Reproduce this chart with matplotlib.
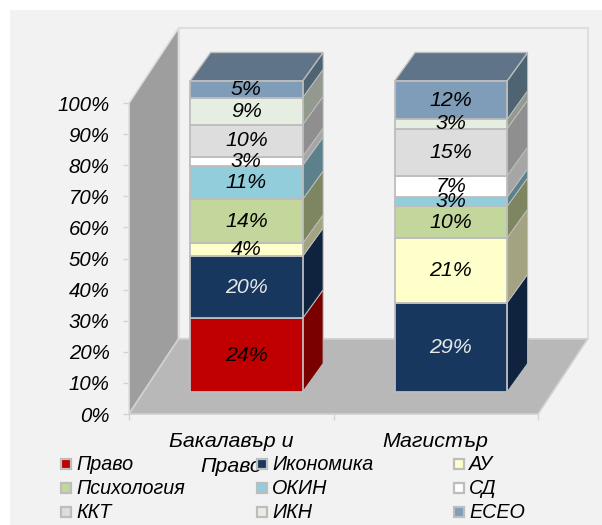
import numpy as np
import matplotlib
matplotlib.use("Agg")
import matplotlib.pyplot as plt
from matplotlib.patches import Rectangle

plt.rcParams["font.family"] = ["Liberation Sans", "DejaVu Sans"]

categories = ["Бакалавър и\nПраво", "Магистър"]
series = ["Право", "Икономика", "АУ", "Психология", "ОКИН", "СД", "ККТ", "ИКН", "ЕСЕО"]
bachelor = [23.7, 19.9, 4.2, 14.1, 10.9, 2.9, 10.2, 8.7, 5.4]
master = [0, 28.7, 20.9, 10.1, 2.9, 7.0, 15.1, 3.0, 12.3]
yticks = [0, 10, 20, 30, 40, 50, 60, 70, 80, 90, 100]

front_colors = ["#c00000", "#17375e", "#ffffcc", "#c3d69b", "#92cddc",
                "#ffffff", "#dddddd", "#e6eee2", "#7f9db9"]
side_colors = ["#7a0000", "#0f233f", "#a3a382", "#7d8660", "#5c808c",
               "#a6a6a6", "#8f8f8f", "#92998f", "#4f6473"]
label_colors = ["black", "#e8e8e8", "black", "black", "black",
                "black", "black", "black", "black"]
top_color = "#5f7489"
edge = "#bdbdbd"

W, H = 602, 525
# plot box in pixels of the image
LEFT, RIGHT, TOP, BOTTOM = 129, 538, 103, 414

fig = plt.figure(figsize=(W / 100, H / 100), dpi=100, facecolor="white")
fig.patches.append(Rectangle((10 / W, 0), 1, 1 - 10 / H, transform=fig.transFigure,
                             facecolor="#f2f2f2", edgecolor="none", zorder=-1))
ax = fig.add_axes([LEFT / W, 1 - BOTTOM / H, (RIGHT - LEFT) / W, (BOTTOM - TOP) / H])
ax.set_xlim(0, 2)
ax.set_ylim(0, 100)
ax.patch.set_visible(False)
for s in ax.spines.values():
    s.set_visible(False)

# oblique projection: depth 1 means back wall
px_x = 2 / (RIGHT - LEFT)
px_y = 100 / (BOTTOM - TOP)
dx, dy = 49.5 * px_x, 75 * px_y


def poly(xs, ys, depth=0, **kw):
    xs = np.array(xs) + depth * dx
    ys = np.array(ys) + depth * dy
    ax.fill(xs, ys, clip_on=False, **kw)


# walls and floor
poly([0, 2, 2, 0], [0, 0, 100, 100], depth=1, facecolor="#f2f2f2", edgecolor="#dedede", lw=1.5, zorder=1)
ax.fill([0, dx, dx, 0], [0, dy, 100 + dy, 100], facecolor="#9e9e9e", edgecolor="#dedede", lw=1.2,
        clip_on=False, zorder=2)
ax.fill([0, 2, 2 + dx, dx], [0, 0, dy, dy], facecolor="#b8b8b8", edgecolor="#d0d0d0", lw=1.2,
        clip_on=False, zorder=2)

# bars
bar_w = 0.55
z0 = 22 / 75
bar_depth_x = 20.5 / 49.5
bar_depth_y = 28.5 / 75
for i, values in enumerate([bachelor, master]):
    xc = i + 0.5 + z0 * dx + 0.003
    base = z0 * dy
    bottom = 0
    for j, v in enumerate(values):
        if v == 0:
            continue
        ax.bar(xc, v, bar_w, bottom=base + bottom, color=front_colors[j], edgecolor=edge, lw=1.3,
               clip_on=False, zorder=4)
        xr = xc + bar_w / 2
        ax.fill([xr, xr + bar_depth_x * dx, xr + bar_depth_x * dx, xr],
                [base + bottom, base + bottom + bar_depth_y * dy, base + bottom + v + bar_depth_y * dy, base + bottom + v],
                facecolor=side_colors[j], edgecolor=edge, lw=0.7, clip_on=False, zorder=3)
        ax.text(xc, base + bottom + v / 2, f"{round(v)}%", ha="center", va="center", style="italic",
                fontsize=15.4, color=label_colors[j], clip_on=False, zorder=6)
        bottom += v
    xl = xc - bar_w / 2
    xr = xc + bar_w / 2
    ax.fill([xl, xr, xr + bar_depth_x * dx, xl + bar_depth_x * dx],
            [base + bottom, base + bottom, base + bottom + bar_depth_y * dy, base + bottom + bar_depth_y * dy],
            facecolor=top_color, edgecolor=edge, lw=1, clip_on=False, zorder=3)

# axes
ax.set_yticks(yticks)
ax.set_yticklabels([f"{t}%" for t in yticks], style="italic", fontsize=14.7)
ax.set_xticks([0, 1, 2])
ax.set_xticklabels([])
ax.set_xticks([0.5, 1.5], minor=True)
ax.set_xticklabels(categories, minor=True, style="italic", fontsize=15.4, linespacing=1.42)
ax.tick_params(axis="x", which="major", length=4, width=1, color="#d4d4d4")
ax.tick_params(axis="y", which="major", length=4, width=1, color="#d4d4d4", pad=10)
ax.tick_params(axis="x", which="minor", length=0, pad=13)

# legend
col_x = [66, 262, 459]
row_y = [464, 488, 512]
for k, name in enumerate(series):
    mx = col_x[k % 3]
    my = row_y[k // 3]
    fig.patches.append(Rectangle(((mx - 5) / W, 1 - (my + 5) / H), 10 / W, 10 / H, transform=fig.transFigure,
                                 facecolor=front_colors[k], edgecolor="#bdbdbd", lw=1.6, zorder=5))
    fig.text((mx + 10) / W, 1 - (my + 1) / H, name, style="italic", fontsize=14.2, va="center", ha="left", zorder=6)

fig.savefig("out.png", dpi=100)
